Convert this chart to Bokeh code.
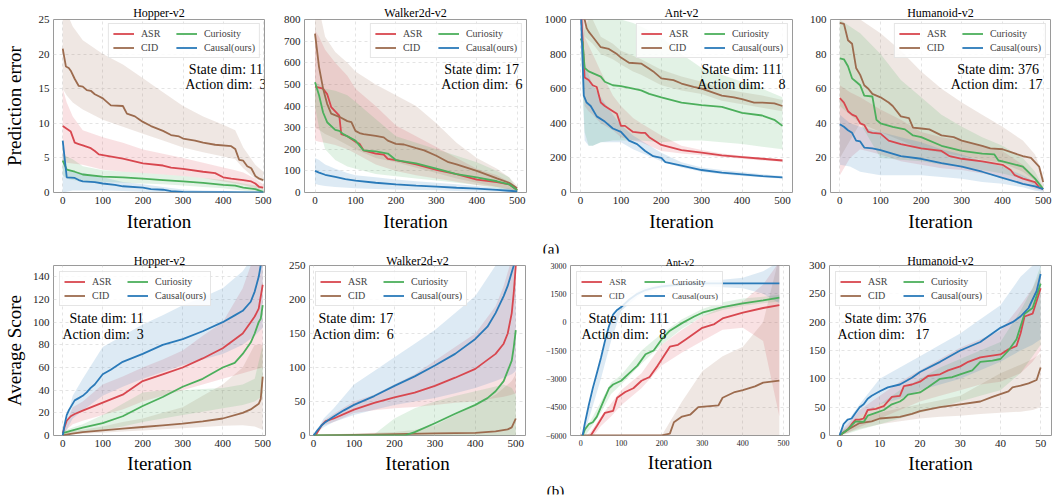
from bokeh.plotting import figure
from bokeh.layouts import column, row
from bokeh.models import Legend, LegendItem, Label, FixedTicker, Range1d
from bokeh.embed import file_html
from bokeh.resources import INLINE

FONT = "Liberation Serif"
NAMES = ["ASR", "CID", "Curiosity", "Causal(ours)"]
COLORS = ["#d8474f", "#9c6b4e", "#4caf5c", "#2a7ab9"]

# ---------------- tick values ----------------
XT_500 = [0, 100, 200, 300, 400, 500]
XT_50 = [0, 10, 20, 30, 40, 50]
YT_HE = [0, 5, 10, 15, 20, 25]
YT_WE = [0, 100, 200, 300, 400, 500, 600, 700, 800]
YT_AE = [0, 200, 400, 600, 800, 1000]
YT_UE = [0, 20, 40, 60, 80, 100]
YT_HS = [0, 20, 40, 60, 80, 100, 120, 140]
YT_WS = [0, 50, 100, 150, 200, 250]
YT_AS = [-6000, -4500, -3000, -1500, 0, 1500, 3000]
YT_AS_LABELS = ["\u22126000", "\u22124500", "\u22123000", "\u22121500", "0", "1500", "3000"]
YT_US = [0, 50, 100, 150, 200, 250, 300]

# ---------------- Hopper-v2 prediction error ----------------
HE_BX = [0, 10, 25, 50, 100, 150, 200, 250, 300, 350, 400, 430, 450, 480, 500]
HE_ASR_HI = [15, 13, 11, 9, 8, 7.2, 6.2, 5.6, 5, 4.3, 3.6, 3.2, 2.9, 2, 1.2]
HE_ASR_LO = [4.5, 4.3, 4.2, 4, 3.3, 3, 2.8, 2.6, 2.4, 2.1, 1.6, 1.3, 1.1, 0.6, 0.4]
HE_CID_HI = [27, 26, 24, 22, 20, 18.5, 16.5, 14.5, 12.5, 11, 9.8, 9, 6.5, 4, 3]
HE_CID_LO = [15, 14, 13, 12, 10.5, 9.5, 8.5, 7.5, 6.5, 5.8, 5.2, 4.8, 3.5, 2, 1.5]
HE_CUR_HI = [5.5, 5.2, 4.8, 3.8, 3.2, 3, 2.8, 2.6, 2.4, 2.1, 1.8, 1.5, 1.3, 1, 0.6]
HE_CUR_LO = [2.5, 2, 1.8, 1.6, 1.5, 1.4, 1.3, 1.2, 1.0, 0.8, 0.6, 0.4, 0.3, 0.1, 0]
HE_CAU_HI = [7.6, 3.5, 3, 2.8, 2.2, 1.5, 1.2, 0.8, 0.45, 0.3, 0.2, 0.15, 0.12, 0.1, 0.1]
HE_CAU_LO = [0, 0.1, 0.3, 0.3, 0.3, 0.2, 0.1, 0.05, 0, 0, 0, 0, 0, 0, 0]
HE_ASR_X = [0, 10, 20, 30, 40, 50, 70, 80, 90, 100, 150, 200, 250, 270, 300, 350, 380, 400, 420, 450, 470, 480, 490, 500]
HE_ASR_Y = [9.6, 9.2, 8.8, 7.2, 7.0, 6.8, 6.4, 6.0, 5.5, 5.4, 4.9, 4.2, 3.9, 3.6, 3.4, 3.0, 2.8, 2.2, 2.0, 1.8, 1.6, 1.3, 0.8, 0.7]
HE_CID_X = [0, 8, 15, 20, 30, 40, 50, 60, 70, 80, 90, 100, 110, 120, 150, 160, 180, 190, 200, 220, 250, 270, 290, 300, 330, 350, 380, 420, 430, 440, 450, 460, 470, 480, 490, 500]
HE_CID_Y = [20.8, 18.2, 18.0, 17.6, 16.4, 15.4, 15.3, 14.8, 14.7, 14.2, 13.9, 13.6, 13.1, 12.6, 12.5, 11.4, 11.0, 10.6, 10.2, 9.6, 8.9, 8.3, 8.1, 7.8, 7.5, 7.2, 6.9, 6.7, 6.3, 4.7, 4.6, 3.8, 3.5, 2.4, 2.0, 1.8]
HE_CUR_X = [0, 10, 30, 50, 100, 150, 200, 250, 300, 350, 400, 430, 450, 480, 500]
HE_CUR_Y = [4.6, 3.3, 3.0, 2.6, 2.3, 2.2, 2.0, 1.8, 1.6, 1.4, 1.1, 1.0, 0.7, 0.5, 0.1]
HE_CAU_X = [0, 10, 30, 40, 50, 80, 100, 130, 150, 200, 220, 250, 270, 300, 400, 500]
HE_CAU_Y = [7.5, 2.2, 2.1, 1.8, 1.6, 1.5, 1.3, 1.1, 0.9, 0.7, 0.5, 0.4, 0.2, 0.1, 0.05, 0.0]

# ---------------- Walker2d-v2 prediction error ----------------
WE_BX = [0, 10, 25, 50, 80, 100, 150, 200, 250, 300, 350, 400, 450, 480, 500]
WE_ASR_HI = [750, 720, 660, 600, 540, 480, 400, 310, 260, 210, 160, 110, 80, 50, 20]
WE_ASR_LO = [240, 235, 230, 220, 200, 180, 130, 100, 80, 65, 50, 35, 25, 15, 5]
WE_CID_HI = [900, 850, 720, 650, 600, 560, 500, 450, 400, 320, 230, 160, 110, 70, 30]
WE_CID_LO = [300, 290, 270, 250, 220, 200, 160, 140, 115, 90, 65, 45, 25, 15, 8]
WE_CUR_HI = [510, 500, 480, 470, 450, 420, 340, 260, 230, 200, 170, 140, 100, 70, 15]
WE_CUR_LO = [400, 300, 200, 150, 120, 110, 85, 75, 65, 55, 45, 35, 20, 10, 3]
WE_CAU_HI = [160, 150, 130, 110, 90, 80, 70, 60, 52, 45, 38, 30, 22, 18, 12]
WE_CAU_LO = [40, 35, 30, 25, 22, 20, 16, 14, 12, 10, 7, 5, 3, 1, 0]
WE_ASR_X = [0, 10, 20, 30, 40, 60, 65, 80, 100, 110, 120, 150, 170, 180, 200, 250, 300, 350, 400, 450, 480, 500]
WE_ASR_Y = [490, 485, 480, 455, 395, 355, 270, 260, 235, 225, 195, 180, 175, 155, 150, 130, 105, 85, 60, 48, 38, 12]
WE_CID_X = [0, 10, 20, 30, 40, 60, 80, 90, 100, 110, 120, 150, 170, 180, 200, 220, 250, 270, 300, 330, 350, 400, 450, 480, 500]
WE_CID_Y = [735, 580, 480, 410, 365, 350, 330, 325, 285, 275, 270, 262, 255, 240, 225, 222, 205, 195, 170, 140, 130, 100, 65, 45, 20]
WE_CUR_X = [0, 10, 20, 30, 50, 60, 70, 100, 120, 150, 180, 200, 250, 300, 330, 350, 400, 450, 480, 500]
WE_CUR_Y = [510, 450, 370, 325, 290, 285, 270, 240, 195, 190, 180, 150, 135, 110, 95, 85, 70, 52, 38, 10]
WE_CAU_X = [0, 10, 25, 50, 75, 100, 150, 200, 250, 300, 350, 400, 450, 480, 500]
WE_CAU_Y = [100, 92, 82, 72, 62, 55, 45, 38, 32, 27, 22, 18, 12, 8, 5]

# ---------------- Ant-v2 prediction error ----------------
AE_BX = [0, 5, 10, 20, 30, 50, 80, 100, 130, 150, 200, 250, 300, 350, 400, 450, 500]
AE_ASR_HI = [1200, 1100, 900, 850, 800, 700, 560, 500, 430, 400, 330, 270, 245, 225, 212, 200, 192]
AE_ASR_LO = [1000, 800, 500, 470, 450, 400, 360, 320, 300, 290, 240, 225, 215, 205, 195, 185, 178]
AE_CID_HI = [1200, 1150, 1100, 1050, 1000, 900, 860, 820, 790, 770, 710, 670, 640, 600, 580, 560, 535]
AE_CID_LO = [1000, 950, 900, 880, 860, 800, 770, 740, 700, 680, 620, 590, 570, 530, 510, 490, 470]
AE_CUR_HI = [900, 900, 950, 1000, 1000, 1000, 1000, 1000, 980, 960, 900, 800, 720, 680, 640, 600, 550]
AE_CUR_LO = [880, 600, 350, 270, 270, 290, 300, 300, 300, 300, 290, 300, 300, 290, 280, 265, 250]
AE_CAU_HI = [1200, 1000, 750, 680, 620, 550, 450, 390, 330, 300, 230, 175, 145, 130, 118, 105, 95]
AE_CAU_LO = [1000, 600, 300, 270, 270, 290, 290, 290, 250, 230, 180, 145, 120, 105, 95, 88, 80]
AE_ASR_X = [0, 10, 20, 30, 40, 50, 60, 80, 90, 100, 110, 130, 150, 160, 170, 200, 250, 300, 350, 400, 450, 500]
AE_ASR_Y = [1100, 665, 650, 620, 610, 520, 500, 470, 455, 385, 385, 350, 345, 345, 320, 275, 245, 230, 215, 205, 195, 185]
AE_CID_X = [0, 10, 15, 20, 30, 50, 70, 90, 100, 120, 150, 170, 180, 200, 230, 250, 280, 300, 350, 380, 400, 430, 450, 480, 500]
AE_CID_Y = [1150, 1000, 950, 930, 900, 840, 830, 800, 780, 750, 745, 715, 700, 660, 650, 630, 610, 600, 560, 550, 540, 520, 520, 515, 500]
AE_CUR_X = [0, 5, 10, 20, 40, 50, 60, 80, 100, 130, 150, 170, 200, 250, 300, 350, 400, 450, 480, 500]
AE_CUR_Y = [890, 870, 720, 700, 680, 670, 640, 620, 615, 600, 590, 570, 550, 520, 505, 495, 460, 445, 420, 385]
AE_CAU_X = [0, 8, 15, 25, 40, 60, 80, 100, 120, 140, 160, 180, 200, 210, 250, 300, 350, 400, 450, 500]
AE_CAU_Y = [1100, 560, 520, 500, 440, 410, 370, 350, 300, 280, 240, 210, 200, 175, 155, 130, 115, 105, 95, 88]

# ---------------- Humanoid-v2 prediction error ----------------
UE_BX = [0, 25, 50, 100, 150, 200, 250, 300, 350, 400, 450, 480, 500]
UE_ASR_HI = [62, 58, 55, 48, 42, 35, 32, 30, 27, 24, 16, 9, 3]
UE_ASR_LO = [10, 20, 25, 22, 18, 16, 14, 13, 11, 9, 5, 2, 1]
UE_CID_HI = [105, 103, 100, 92, 82, 70, 60, 52, 45, 38, 30, 22, 10]
UE_CID_LO = [20, 30, 40, 35, 30, 25, 23, 21, 19, 17, 12, 7, 2]
UE_CUR_HI = [100, 96, 92, 80, 65, 55, 45, 38, 32, 27, 20, 12, 3]
UE_CUR_LO = [50, 45, 40, 20, 19, 18, 16, 15, 13, 11, 8, 4, 1]
UE_CAU_HI = [45, 40, 38, 35, 32, 29, 25, 22, 18, 15, 10, 6, 3]
UE_CAU_LO = [16, 15, 12, 10, 10, 10, 9, 8, 6, 5, 3, 1, 0.5]
UE_ASR_X = [0, 10, 20, 30, 40, 50, 60, 70, 80, 100, 120, 150, 200, 250, 270, 300, 350, 400, 420, 430, 450, 480, 490, 500]
UE_ASR_Y = [54.5, 52, 47, 45, 44, 40, 39, 35, 34.5, 34, 30, 28, 25.5, 24, 21, 19.5, 18, 16, 13, 10, 8, 6, 3, 2]
UE_CID_X = [0, 10, 20, 30, 40, 50, 60, 70, 80, 100, 120, 130, 150, 170, 180, 200, 220, 250, 280, 300, 350, 370, 400, 450, 470, 490, 500]
UE_CID_Y = [98, 97.5, 88, 86, 72, 68, 62, 60, 57, 55, 52, 50, 44, 43, 37.5, 37, 36.5, 33, 32, 30, 27, 25.5, 25, 21, 20, 15, 6]
UE_CUR_X = [0, 10, 20, 30, 40, 50, 60, 80, 90, 100, 130, 160, 180, 200, 250, 300, 350, 380, 390, 400, 450, 480, 500]
UE_CUR_Y = [77.5, 77, 73, 66, 64, 62, 56, 55.5, 42, 40, 38, 36.5, 33, 32, 27, 24, 22.5, 22, 18.5, 18, 15, 8, 2]
UE_CAU_X = [0, 10, 20, 30, 40, 50, 60, 80, 100, 150, 200, 250, 300, 350, 400, 450, 480, 500]
UE_CAU_Y = [39.5, 38, 36, 34.5, 30, 29.5, 26, 25.5, 24.5, 21, 19.5, 17, 15, 12, 8.5, 5, 3.5, 2]

# ---------------- Hopper-v2 average score ----------------
HS_BX = [0, 10, 25, 50, 100, 150, 200, 250, 300, 350, 400, 450, 480, 500]
HS_ASR_HI = [3, 12, 25, 30, 45, 52, 60, 67, 75, 88, 100, 130, 160, 170]
HS_ASR_LO = [0, 5, 10, 13, 18, 23, 30, 35, 40, 45, 50, 55, 58, 60]
HS_CID_HI = [2, 3, 4, 5, 8, 12, 15, 20, 25, 35, 45, 60, 80, 80]
HS_CID_LO = [0, 0.5, 1, 1.5, 2.5, 3.5, 4.5, 5.5, 6.5, 7.5, 8.5, 9, 8, 5]
HS_CUR_HI = [3, 5, 7, 10, 18, 28, 38, 40, 40, 41, 42, 45, 50, 80]
HS_CUR_LO = [0, 1, 2, 3, 5, 8, 12, 15, 18, 21, 24, 27, 30, 35]
HS_CAU_HI = [3, 15, 35, 50, 78, 88, 98, 106, 115, 122, 130, 145, 160, 175]
HS_CAU_LO = [0, 5, 15, 22, 35, 43, 50, 56, 62, 67, 72, 80, 88, 95]
HS_ASR_X = [0, 5, 10, 20, 30, 50, 100, 150, 200, 250, 300, 350, 400, 450, 470, 480, 490, 500]
HS_ASR_Y = [2, 8, 13, 17, 19, 22, 29, 36, 48, 54, 60, 68, 77, 90, 100, 105, 112, 133]
HS_CID_X = [0, 20, 50, 100, 150, 200, 250, 300, 350, 400, 450, 470, 490, 495, 500]
HS_CID_Y = [0, 1.5, 3, 4.5, 6, 7.5, 9, 10.5, 12.5, 15, 20, 23, 28, 32, 52]
HS_CUR_X = [0, 20, 50, 100, 150, 200, 250, 300, 350, 400, 430, 450, 470, 480, 490, 495, 500]
HS_CUR_Y = [2, 4, 7, 11, 17, 26, 34, 43, 50, 60, 64, 72, 82, 90, 100, 103, 115]
HS_CAU_X = [0, 5, 10, 15, 20, 30, 40, 50, 60, 70, 80, 100, 120, 150, 200, 250, 300, 350, 400, 430, 450, 470, 480, 490, 495]
HS_CAU_Y = [0, 10, 18, 22, 25, 31, 33, 35, 38, 42, 45, 54, 58, 65, 72, 80, 85, 92, 100, 106, 110, 118, 127, 140, 150]

# ---------------- Walker2d-v2 average score ----------------
WS_BX = [0, 25, 50, 100, 150, 200, 250, 300, 350, 400, 450, 470, 490, 500]
WS_ASR_HI = [0, 22, 32, 50, 60, 75, 90, 110, 130, 150, 190, 220, 260, 280]
WS_ASR_LO = [0, 15, 20, 33, 37, 40, 42, 45, 48, 50, 55, 57, 60, 62]
WS_CID_HI = [0, 1, 2, 3, 4, 5, 8, 15, 30, 45, 60, 70, 80, 90]
WS_CID_LO = [0, 0, 0, 0, 0, 0, 0, 0, 0, 0, 0, 0, 0, 0]
WS_CUR_HI = [0, 0, 0, 0, 2, 25, 40, 50, 58, 65, 72, 75, 70, 60]
WS_CUR_LO = [0, 0, 0, 0, 0, 0, 0, 0, 0, 0, 0, 0, 0, 0]
WS_CAU_HI = [0, 25, 40, 75, 95, 115, 135, 155, 180, 205, 250, 280, 300, 300]
WS_CAU_LO = [0, 12, 20, 30, 38, 45, 50, 55, 62, 70, 80, 85, 90, 95]
WS_ASR_X = [5, 10, 20, 30, 50, 100, 150, 200, 250, 300, 350, 400, 450, 470, 480, 490, 495, 500]
WS_ASR_Y = [0, 5, 15, 21, 25, 38, 48, 56, 63, 73, 85, 98, 120, 135, 150, 180, 210, 250]
WS_CID_X = [0, 100, 200, 300, 400, 450, 480, 490, 500]
WS_CID_Y = [0, 1, 2, 3, 4, 6, 9, 12, 25]
WS_CUR_X = [0, 100, 200, 225, 250, 300, 350, 400, 430, 450, 470, 480, 490, 495, 500]
WS_CUR_Y = [0, 0, 0, 0, 5, 18, 32, 45, 55, 65, 80, 95, 110, 130, 155]
WS_CAU_X = [0, 10, 20, 30, 50, 75, 100, 150, 200, 250, 300, 350, 400, 430, 450, 470, 480, 490, 495]
WS_CAU_Y = [0, 8, 15, 20, 28, 37, 45, 58, 73, 87, 103, 120, 142, 160, 180, 205, 220, 240, 250]

# ---------------- Ant-v2 average score ----------------
AS_BX = [5, 25, 50, 75, 100, 150, 200, 250, 300, 350, 400, 450, 490]
AS_ASR_HI = [-6200, -5800, -5000, -4300, -3600, -2700, -1200, -400, 300, 800, 1100, 2000, 3200]
AS_ASR_LO = [-6200, -6200, -5500, -5000, -4400, -3500, -2300, -1600, -1000, -400, -300, -1000, -5000]
AS_CID_HI = [-6000, -6000, -6000, -6000, -6000, -6000, -6000, -4200, -2600, -1800, -1300, 0, 3500]
AS_CID_LO = [-6000, -6000, -6000, -6000, -6000, -6000, -6000, -6000, -6000, -6000, -6000, -6000, -6000]
AS_CUR_HI = [-5800, -5200, -4200, -3200, -2800, -1500, -600, 150, 700, 1050, 1250, 1350, 1450]
AS_CUR_LO = [-6200, -5600, -4800, -3800, -3300, -2200, -1200, -350, 300, 650, 850, 1000, 1100]
AS_CAU_HI = [-5800, -4200, -2000, 0, 900, 1800, 2050, 2150, 2200, 2250, 2350, 2700, 3200]
AS_CAU_LO = [-6200, -4800, -3000, -1000, 600, 1500, 1800, 1900, 1900, 1850, 1800, 1500, 1000]
AS_ASR_X = [25, 40, 60, 80, 90, 110, 130, 150, 170, 190, 220, 240, 260, 300, 330, 350, 400, 450, 490]
AS_ASR_Y = [-6000, -5500, -4800, -4700, -4000, -3700, -3500, -3100, -2900, -2300, -1300, -1200, -900, -300, -100, 200, 500, 750, 900]
AS_CID_X = [0, 100, 200, 220, 230, 250, 270, 290, 340, 350, 380, 400, 430, 450, 490]
AS_CID_Y = [-6000, -6000, -6000, -5900, -5300, -5000, -4900, -4500, -4400, -4000, -3700, -3600, -3400, -3200, -3100]
AS_CUR_X = [5, 10, 20, 30, 40, 50, 60, 70, 80, 100, 120, 140, 160, 180, 200, 220, 250, 280, 300, 350, 400, 450, 490]
AS_CUR_Y = [-6000, -5700, -5400, -5300, -5000, -4500, -4000, -3500, -3300, -3100, -2700, -2300, -1700, -1500, -900, -450, -50, 300, 500, 800, 1000, 1150, 1300]
AS_CAU_X = [5, 10, 20, 30, 40, 50, 60, 70, 80, 90, 100, 120, 140, 160, 180, 200, 250, 300, 400, 490]
AS_CAU_Y = [-6000, -5400, -4400, -3500, -2700, -1900, -1000, -200, 400, 650, 800, 1200, 1500, 1700, 1820, 1900, 2000, 2050, 2050, 2050]

# ---------------- Humanoid-v2 average score ----------------
US_BX = [0, 2, 5, 10, 15, 20, 25, 30, 35, 40, 45, 48, 50]
US_ASR_HI = [5, 20, 45, 70, 95, 115, 135, 155, 170, 185, 230, 260, 290]
US_ASR_LO = [0, 5, 15, 30, 45, 60, 70, 80, 90, 95, 110, 130, 150]
US_CID_HI = [3, 15, 30, 40, 48, 55, 62, 70, 90, 110, 125, 135, 145]
US_CID_LO = [0, 5, 12, 20, 25, 30, 33, 35, 38, 40, 42, 45, 50]
US_CUR_HI = [5, 15, 35, 55, 80, 100, 120, 135, 150, 165, 220, 260, 300]
US_CUR_LO = [0, 3, 10, 20, 30, 40, 50, 60, 70, 80, 110, 140, 160]
US_CAU_HI = [5, 25, 55, 100, 120, 140, 160, 180, 205, 230, 280, 300, 310]
US_CAU_LO = [0, 15, 35, 55, 65, 80, 90, 100, 115, 130, 150, 160, 170]
US_ASR_X = [0, 2, 3, 4, 5, 6, 7, 9, 11, 13, 15, 16, 18, 20, 22, 25, 27, 30, 32, 35, 40, 42, 44, 45, 46, 48, 50]
US_ASR_Y = [0, 10, 20, 28, 28, 30, 45, 47, 52, 68, 70, 87, 90, 95, 105, 108, 115, 122, 130, 138, 143, 152, 158, 180, 210, 215, 260]
US_CID_X = [0, 2, 5, 8, 10, 15, 18, 20, 25, 30, 35, 38, 40, 42, 43, 45, 47, 49, 50]
US_CID_Y = [0, 10, 22, 25, 30, 33, 38, 43, 50, 55, 60, 68, 73, 78, 85, 88, 92, 98, 120]
US_CUR_X = [0, 2, 3, 4, 6, 7, 9, 11, 13, 15, 16, 17, 20, 22, 25, 28, 30, 33, 35, 38, 40, 42, 44, 46, 48, 50]
US_CUR_Y = [0, 10, 18, 25, 24, 35, 40, 45, 55, 60, 65, 72, 76, 85, 100, 103, 108, 115, 130, 132, 135, 150, 170, 215, 225, 268]
US_CAU_X = [0, 1, 2, 3, 4, 5, 6, 7, 8, 10, 12, 15, 18, 20, 25, 30, 35, 40, 43, 45, 47, 48, 49, 50]
US_CAU_Y = [0, 20, 28, 30, 40, 50, 55, 65, 70, 78, 85, 90, 102, 112, 130, 150, 165, 190, 200, 210, 225, 240, 255, 285]

TITLES = ["Hopper-v2", "Walker2d-v2", "Ant-v2", "Humanoid-v2"]
STATE_DIMS = ["11", "17", "111", "376"]
ACTION_TOP = ["Action dim:\u00a0 3", "Action dim:\u00a0 6", "Action dim:\u00a0\u00a0\u00a0 8", "Action dim:\u00a0\u00a0 17"]
ACTION_BOT = ["Action dim:\u00a0 3", "Action dim:\u00a0 6", "Action dim:\u00a0\u00a0 8", "Action dim:\u00a0\u00a0 17"]
TAGS = ["(a)", "(b)"]

# ---------------- layout configuration ----------------
TOTAL_W = 1052
ROW1_H, GAP_H, ROW2_H, TAIL_H = 234, 20, 222, 19


def series_of(p):
    g = globals()
    return [(g[p + "_" + k + "_X"], g[p + "_" + k + "_Y"], g[p + "_" + k + "_LO"], g[p + "_" + k + "_HI"])
            for k in ("ASR", "CID", "CUR", "CAU")]


panels = [
    dict(w=272, h=ROW1_H, bl=50, br=8, bt=19, bb=39, xr=(-23, 503), yr=(0, 25), xt=XT_500, yt=YT_HE,
         ylabel="Prediction error", ystand=11, bx=HE_BX, series=series_of("HE"), top=True, idx=0, tdx=-1),
    dict(w=264, h=ROW1_H, bl=32, br=10, bt=19, bb=39, xr=(-26, 523), yr=(0, 800), xt=XT_500, yt=YT_WE,
         ylabel=None, bx=WE_BX, series=series_of("WE"), top=True, idx=1, tdx=-4),
    dict(w=264, h=ROW1_H, bl=34, br=8, bt=19, bb=39, xr=(-25, 525), yr=(0, 1000), xt=XT_500, yt=YT_AE,
         ylabel=None, bx=AE_BX, series=series_of("AE"), top=True, idx=2, tdx=-7),
    dict(w=252, h=ROW1_H, bl=30, br=2, bt=19, bb=39, xr=(-23, 518), yr=(0, 100), xt=XT_500, yt=YT_UE,
         ylabel=None, bx=UE_BX, series=series_of("UE"), top=True, idx=3, tdx=-8),
    dict(w=272, h=ROW2_H, bl=49, br=7, bt=10, bb=38, xr=(-23, 507), yr=(0, 150), xt=XT_500, yt=YT_HS,
         ylabel="Average Score", ystand=5, bx=HS_BX, series=series_of("HS"), top=False, idx=0, tdx=(16, 9)),
    dict(w=264, h=ROW2_H, bl=37, br=11, bt=10, bb=38, xr=(-10, 524), yr=(0, 250), xt=XT_500, yt=YT_WS,
         ylabel=None, bx=WS_BX, series=series_of("WS"), top=False, idx=1, tdx=(9, 3)),
    dict(w=264, h=ROW2_H, bl=34, br=11, bt=10, bb=38, xr=(-25, 515), yr=(-6000, 3000), xt=XT_500, yt=YT_AS,
         ylabel=None, bx=AS_BX, series=series_of("AS"), top=False, idx=2, tdx=(18, 11), small=True),
    dict(w=252, h=ROW2_H, bl=29, br=1, bt=10, bb=38, xr=(-2.5, 52.7), yr=(0, 300), xt=XT_50, yt=YT_US,
         ylabel=None, bx=US_BX, series=series_of("US"), top=False, idx=3, tdx=(15, 8)),
]


def make_panel(cfg):
    small = cfg.get("small", False)
    tick_fs = "8px" if small else "11px"
    title_fs = "10px" if small else "12px"
    leg_fs = "9px" if small else "10px"
    fw = cfg["w"] - cfg["bl"] - cfg["br"]
    fh = cfg["h"] - cfg["bt"] - cfg["bb"]

    p = figure(width=cfg["w"], height=cfg["h"], x_range=Range1d(*cfg["xr"]), y_range=Range1d(*cfg["yr"]),
               output_backend="svg", toolbar_location=None, title=TITLES[cfg["idx"]],
               min_border_left=cfg["bl"], min_border_right=cfg["br"],
               min_border_top=cfg["bt"], min_border_bottom=cfg["bb"])
    p.title.align = "center"
    p.title.text_font = FONT
    p.title.text_font_size = title_fs
    p.title.text_font_style = "normal"
    p.title.text_color = "black"
    p.title.standoff = 0 if cfg["top"] else -5
    p.background_fill_color = "white"
    p.border_fill_color = "white"
    p.outline_line_color = "#9a9a9a"
    p.outline_line_width = 1

    p.xaxis.ticker = FixedTicker(ticks=cfg["xt"])
    p.yaxis.ticker = FixedTicker(ticks=cfg["yt"])
    p.xgrid.ticker = FixedTicker(ticks=cfg["xt"])
    p.ygrid.ticker = FixedTicker(ticks=cfg["yt"])
    if cfg["yt"] is YT_AS:
        p.yaxis.major_label_overrides = {t: s for t, s in zip(YT_AS, YT_AS_LABELS)}
    for ax in (p.xaxis, p.yaxis):
        ax.axis_line_color = None
        ax.major_tick_line_color = None
        ax.minor_tick_line_color = None
        ax.major_tick_out = 0
        ax.major_tick_in = 0
        ax.minor_tick_out = 0
        ax.minor_tick_in = 0
        ax.major_label_text_font = FONT
        ax.major_label_text_font_size = tick_fs
        ax.major_label_text_color = "#222222"
        ax.major_label_standoff = 4
        ax.axis_label_text_font = FONT
        ax.axis_label_text_font_style = "normal"
        ax.axis_label_text_font_size = "19px"
        ax.axis_label_text_color = "black"
    p.xaxis.axis_label = "Iteration"
    p.xaxis.axis_label_standoff = 4 if cfg["top"] else 3
    if cfg["ylabel"]:
        p.yaxis.axis_label = cfg["ylabel"]
        p.yaxis.axis_label_standoff = cfg["ystand"]

    p.grid.grid_line_color = "#dddddd"
    p.grid.grid_line_dash = "3 3"
    p.grid.grid_line_width = 0.8

    for (x, y, lo, hi), c in zip(cfg["series"], COLORS):
        p.varea(x=cfg["bx"], y1=lo, y2=hi, fill_color=c, fill_alpha=0.16)
    renderers = []
    for (x, y, lo, hi), c in zip(cfg["series"], COLORS):
        renderers.append(p.line(x, y, line_color=c, line_width=1.8))

    items = [LegendItem(label=n, renderers=[r]) for n, r in zip(NAMES, renderers)]
    leg = Legend(items=items, ncols=2, location=("top_right" if cfg["top"] else "top_left"))
    leg.label_text_font = FONT
    leg.label_text_font_size = leg_fs
    leg.glyph_width = 21
    leg.glyph_height = 11
    leg.label_height = 11
    leg.label_width = 32
    leg.label_standoff = 7
    leg.spacing = 3
    leg.padding = 4
    leg.margin = 4 if cfg["top"] else 6
    leg.border_line_color = "#cccccc"
    leg.border_line_width = 1
    leg.background_fill_alpha = 0.85
    p.add_layout(leg)

    # dimension annotations (inside the frame)
    sd = "State  dim: " + STATE_DIMS[cfg["idx"]]
    if cfg["top"]:
        act = ACTION_TOP[cfg["idx"]]
        for t, yy in ((sd, fh - 53), (act, fh - 68)):
            p.add_layout(Label(x=fw + cfg["tdx"], y=yy, x_units="screen", y_units="screen", text=t,
                               text_font=FONT, text_font_size="14px", text_align="right",
                               text_baseline="alphabetic", text_color="black"))
    else:
        act = ACTION_BOT[cfg["idx"]]
        for t, yy, dx in ((sd, fh - 57, cfg["tdx"][0]), (act, fh - 73, cfg["tdx"][1])):
            p.add_layout(Label(x=dx, y=yy, x_units="screen", y_units="screen", text=t,
                               text_font=FONT, text_font_size="14px", text_align="left",
                               text_baseline="alphabetic", text_color="black"))
    return p


def make_strip(height, text, cx, base):
    # a plain strip whose frame spans (almost) the whole canvas, holding one sub-figure tag
    s = figure(width=TOTAL_W, height=height, output_backend="svg", toolbar_location=None, title=None,
               x_axis_location=None, y_axis_location=None, x_range=Range1d(0, 1), y_range=Range1d(0, 1),
               min_border=1, min_border_left=1, min_border_right=1, min_border_top=1, min_border_bottom=1)
    s.outline_line_color = None
    s.background_fill_color = "white"
    s.border_fill_color = "white"
    s.grid.visible = False
    s.add_layout(Label(x=cx - 1, y=base, x_units="screen", y_units="screen", text=text,
                       text_font=FONT, text_font_size="15px", text_align="center",
                       text_baseline="alphabetic", text_color="black"))
    return s


figs = [make_panel(c) for c in panels]
strip_a = make_strip(GAP_H, TAGS[0], 550.5, 4.5)
strip_b = make_strip(TAIL_H, TAGS[1], 555, 3.3)
layout = column(row(*figs[:4]), strip_a, row(*figs[4:]), strip_b)
open("out.html", "w").write(file_html(layout, INLINE))
